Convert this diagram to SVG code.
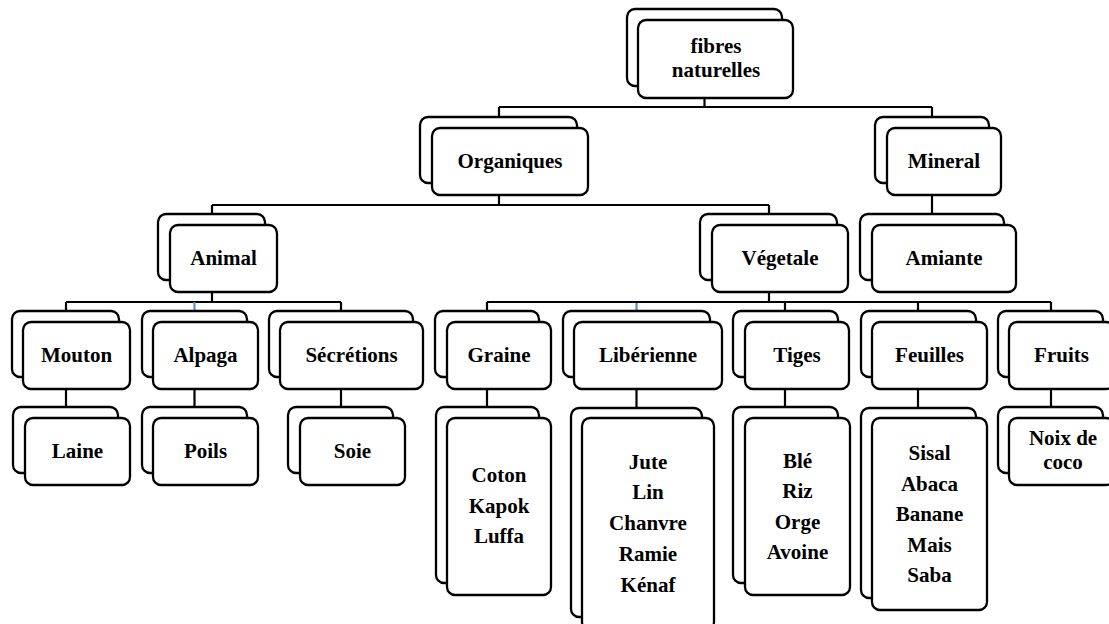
<svg xmlns="http://www.w3.org/2000/svg" width="1109" height="624" viewBox="0 0 1109 624">
<style>
.b{fill:#fff;stroke:#000;stroke-width:2.3}
.t{font-family:"Liberation Serif","Times New Roman",serif;font-weight:bold;font-size:21px;fill:#000;text-anchor:middle}
.c{fill:none;stroke:#000;stroke-width:2.2}
.cb{fill:none;stroke:#5b8fc7;stroke-width:2.2}
</style>
<rect width="1109" height="624" fill="#fff"/>
<g id="connectors">
<path class="c" d="M704.5 98V107M499 107H932M499 107V117M932 107V117"/>
<path class="c" d="M499 195V205M212 205H769M212 205V214M769 205V214M932 195V214"/>
<path class="c" d="M212 292V302M66 302H341M66 302V311M341 302V311"/>
<path class="cb" d="M194.5 302V311M636.5 302V311"/>
<path class="c" d="M769 292V302M487 302H1051M487 302V311M785 302V311M918 302V311M1051 302V311"/>
<path class="c" d="M66 389V407M194.5 389V407M341 389V407M487 389V407M636.5 389V408M785 389V407M918 389V408M1051 389V407"/>
</g>
<g id="n-fibres">
<rect class="b" x="627" y="9" width="155" height="77" rx="8"/>
<rect class="b" x="638" y="20" width="155" height="78" rx="8"/>
<text class="t" x="716" y="53">fibres</text>
<text class="t" x="716" y="77">naturelles</text>
</g>
<g id="n-organiques">
<rect class="b" x="420" y="117" width="157" height="66" rx="8"/>
<rect class="b" x="432" y="128" width="156" height="67" rx="8"/>
<text class="t" x="510" y="168">Organiques</text>
</g>
<g id="n-mineral">
<rect class="b" x="875" y="117" width="114" height="66" rx="8"/>
<rect class="b" x="887" y="128" width="114" height="67" rx="8"/>
<text class="t" x="944" y="168">Mineral</text>
</g>
<g id="n-animal">
<rect class="b" x="158" y="214" width="107" height="66" rx="8"/>
<rect class="b" x="170" y="225" width="107" height="67" rx="8"/>
<text class="t" x="223.5" y="265">Animal</text>
</g>
<g id="n-vegetale">
<rect class="b" x="700" y="214" width="137" height="66" rx="8"/>
<rect class="b" x="712" y="225" width="136" height="67" rx="8"/>
<text class="t" x="780" y="265">Végetale</text>
</g>
<g id="n-amiante">
<rect class="b" x="860" y="214" width="144" height="66" rx="8"/>
<rect class="b" x="872" y="225" width="144" height="67" rx="8"/>
<text class="t" x="944" y="265">Amiante</text>
</g>
<g id="n-mouton">
<rect class="b" x="12" y="311" width="107" height="66" rx="8"/>
<rect class="b" x="23" y="322" width="107" height="67" rx="8"/>
<text class="t" x="76.5" y="362">Mouton</text>
</g>
<g id="n-alpaga">
<rect class="b" x="142" y="311" width="105" height="66" rx="8"/>
<rect class="b" x="153" y="322" width="105" height="67" rx="8"/>
<text class="t" x="205.5" y="362">Alpaga</text>
</g>
<g id="n-secretions">
<rect class="b" x="269" y="311" width="144" height="66" rx="8"/>
<rect class="b" x="280" y="322" width="143" height="67" rx="8"/>
<text class="t" x="351.5" y="362">Sécrétions</text>
</g>
<g id="n-graine">
<rect class="b" x="435" y="311" width="104" height="66" rx="8"/>
<rect class="b" x="447" y="322" width="104" height="67" rx="8"/>
<text class="t" x="499" y="362">Graine</text>
</g>
<g id="n-liberienne">
<rect class="b" x="563" y="311" width="147" height="66" rx="8"/>
<rect class="b" x="574" y="322" width="148" height="67" rx="8"/>
<text class="t" x="648" y="362">Libérienne</text>
</g>
<g id="n-tiges">
<rect class="b" x="733" y="311" width="105" height="66" rx="8"/>
<rect class="b" x="745" y="322" width="104" height="67" rx="8"/>
<text class="t" x="797" y="362">Tiges</text>
</g>
<g id="n-feuilles">
<rect class="b" x="861" y="311" width="115" height="66" rx="8"/>
<rect class="b" x="872" y="322" width="115" height="67" rx="8"/>
<text class="t" x="929.5" y="362">Feuilles</text>
</g>
<g id="n-fruits">
<rect class="b" x="998" y="311" width="105" height="66" rx="8"/>
<rect class="b" x="1009" y="322" width="105" height="67" rx="8"/>
<text class="t" x="1061.5" y="362">Fruits</text>
</g>
<g id="n-laine">
<rect class="b" x="13" y="407" width="105" height="66" rx="8"/>
<rect class="b" x="25" y="418" width="105" height="67" rx="8"/>
<text class="t" x="77.5" y="458">Laine</text>
</g>
<g id="n-poils">
<rect class="b" x="142" y="407" width="105" height="66" rx="8"/>
<rect class="b" x="153" y="418" width="105" height="67" rx="8"/>
<text class="t" x="205.5" y="458">Poils</text>
</g>
<g id="n-soie">
<rect class="b" x="288" y="407" width="105" height="66" rx="8"/>
<rect class="b" x="300" y="418" width="105" height="67" rx="8"/>
<text class="t" x="352.5" y="458">Soie</text>
</g>
<g id="n-coton">
<rect class="b" x="436" y="407" width="103" height="176" rx="8"/>
<rect class="b" x="447" y="418" width="104" height="177" rx="8"/>
<text class="t" x="499" y="482">Coton</text>
<text class="t" x="499" y="513">Kapok</text>
<text class="t" x="499" y="543">Luffa</text>
</g>
<g id="n-jute">
<rect class="b" x="571" y="408" width="131" height="209" rx="8"/>
<rect class="b" x="582" y="418" width="132" height="212" rx="8"/>
<text class="t" x="648" y="469">Jute</text>
<text class="t" x="648" y="499">Lin</text>
<text class="t" x="648" y="530">Chanvre</text>
<text class="t" x="648" y="561">Ramie</text>
<text class="t" x="648" y="592">Kénaf</text>
</g>
<g id="n-ble">
<rect class="b" x="733" y="407" width="105" height="176" rx="8"/>
<rect class="b" x="745" y="418" width="105" height="177" rx="8"/>
<text class="t" x="797.5" y="468">Blé</text>
<text class="t" x="797.5" y="498">Riz</text>
<text class="t" x="797.5" y="529">Orge</text>
<text class="t" x="797.5" y="559">Avoine</text>
</g>
<g id="n-sisal">
<rect class="b" x="861" y="408" width="115" height="190" rx="8"/>
<rect class="b" x="872" y="418" width="115" height="192" rx="8"/>
<text class="t" x="929.5" y="460">Sisal</text>
<text class="t" x="929.5" y="491">Abaca</text>
<text class="t" x="929.5" y="521">Banane</text>
<text class="t" x="929.5" y="552">Mais</text>
<text class="t" x="929.5" y="582">Saba</text>
</g>
<g id="n-noix">
<rect class="b" x="998" y="407" width="105" height="66" rx="8"/>
<rect class="b" x="1009" y="418" width="105" height="67" rx="8"/>
<text class="t" x="1063" y="445">Noix de</text>
<text class="t" x="1063" y="469">coco</text>
</g>
</svg>
